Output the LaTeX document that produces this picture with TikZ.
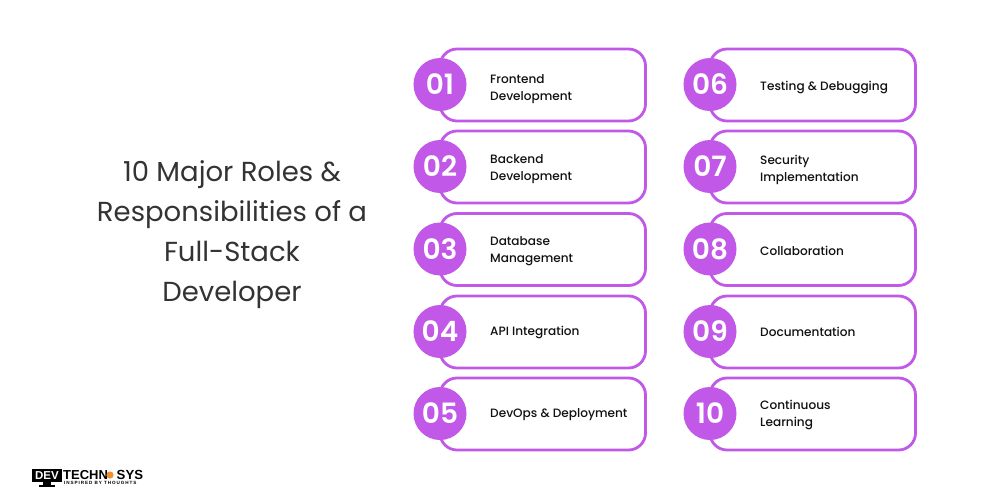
\documentclass[tikz,border=0pt]{standalone}
\usepackage{fontspec}
\setmainfont{Poppins}
\newfontfamily\rolefont{Poppins Medium}
\newfontfamily\numfont{Poppins SemiBold}
\newfontfamily\logofont{Liberation Sans}[Scale=1]
\newfontfamily\logotag{Liberation Sans}[LetterSpace=20]
\definecolor{purp}{HTML}{C158E8}
\definecolor{ink}{HTML}{111111}
\definecolor{headc}{HTML}{333333}
\definecolor{sunc}{HTML}{F0922B}
\tikzset{
  rolebox/.style={draw=purp,line width=2.8pt,rounded corners=17pt,fill=white},
  numdisc/.style={circle,fill=purp,minimum size=53pt,inner sep=0pt,text=white,font=\numfont\fontsize{28}{28}\selectfont},
  roletext/.style={anchor=west,align=left,text=ink,font=\rolefont\fontsize{12.1}{17}\selectfont,inner sep=0pt},
  headtext/.style={align=center,text=headc,font=\fontsize{27.5}{40}\selectfont,inner sep=0pt},
}
% #1 id, #2 x of disc, #3 y of row, #4 number, #5 text, #6 y of text
\newcommand{\rolerow}[6]{%
  \draw[rolebox] (#2,#3-36) rectangle (#2+205.5,#3+36);
  \node[numdisc] (n#1) at (#2,#3-0.5) {#4};
  \node[roletext] (t#1) at (#2+50,#6) {#5};
}
\begin{document}
\begin{tikzpicture}[x=1pt,y=-1pt]
\useasboundingbox (0,0) rectangle (1000,500);
\fill[white] (0,0) rectangle (1000,500);
\node[headtext] (head) at (232,235) {10 Major Roles \&\\Responsibilities of a\\Full-Stack\\Developer};
\rolerow{1}{440}{85}{01}{Frontend\\Development}{89}
\rolerow{2}{440}{167}{02}{Backend\\Development}{169}
\rolerow{3}{440}{249.5}{03}{Database\\Management}{251.5}
\rolerow{4}{440}{332}{04}{API Integration}{332}
\rolerow{5}{440}{414}{05}{DevOps \& Deployment}{415}
\rolerow{6}{710}{85}{06}{Testing \& Debugging}{87}
\rolerow{7}{710}{167}{07}{Security\\Implementation}{170}
\rolerow{8}{710}{249.5}{08}{Collaboration}{251}
\rolerow{9}{710}{332}{09}{Documentation}{332}
\rolerow{10}{710}{414}{10}{Continuous\\Learning}{414.5}
% logo
\fill[black] (32,469) rectangle (62,482);
\fill[black] (43,482) rectangle (51,485);
\fill[black] (39,485) rectangle (55,486.5);
\node[inner sep=0pt,text=white,font=\logofont\fontsize{11.5}{11.5}\selectfont\bfseries] (ldev) at (47,475.5) {DEV};
\node[inner sep=0pt,anchor=base west,text=black,font=\logofont\fontsize{13}{13}\selectfont\bfseries] (ltech) at (63,479.5) {TECHN};
\fill[sunc] (110,475) circle (3.6pt);
\node[inner sep=0pt,anchor=base west,text=black,font=\logofont\fontsize{13.2}{13.2}\selectfont\bfseries] (lsys) at (116.5,479.5) {SYS};
\node[inner sep=0pt,anchor=base west,text=black,font=\logotag\fontsize{4.6}{4.6}\selectfont\bfseries] (ltag) at (64,484.2) {INSPIRED BY THOUGHTS};
\end{tikzpicture}
\end{document}
